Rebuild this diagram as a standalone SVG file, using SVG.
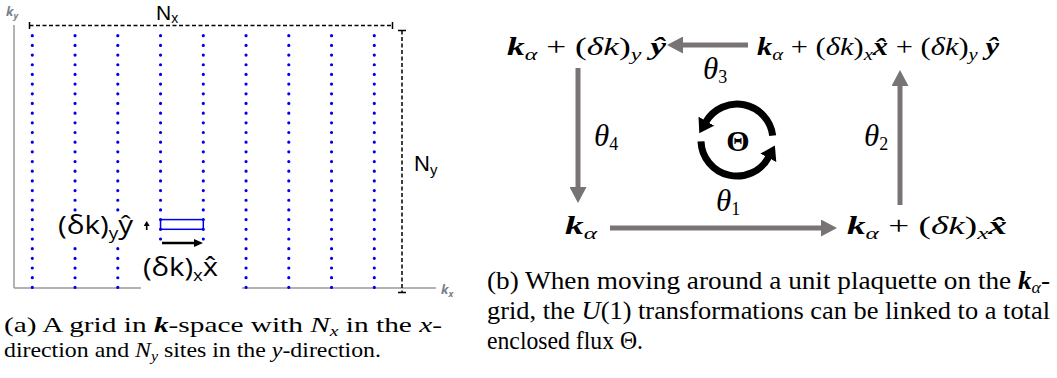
<svg xmlns="http://www.w3.org/2000/svg" width="1057" height="378" viewBox="0 0 1057 378">
<style>
.sans{font-family:"Open Sans","DejaVu Sans",sans-serif;fill:#000}
.lsans{font-family:"Liberation Sans",Arial,sans-serif;fill:#000}
.serif{font-family:"Liberation Serif","Times New Roman",serif;fill:#000}
.math{font-size:25px}
.bi{font-weight:bold;font-style:italic}
.i{font-style:italic}
.sub{font-size:17px}
.csub{font-size:18px}
.axis{stroke:#9a9a9a;stroke-width:1.5;fill:none}
.axl{font-family:"Open Sans","DejaVu Sans",sans-serif;font-weight:bold;font-style:italic;fill:#7a7f8c;font-size:13px}
.dash{stroke:#000;stroke-width:1.5;stroke-dasharray:4 2.5;fill:none}
.tick{stroke:#000;stroke-width:1.5}
.dots{stroke:#0000ee;stroke-width:3.2;stroke-linecap:round;stroke-dasharray:0 9.68;fill:none}
.garrow{stroke:#787474;stroke-width:5;fill:none}
.carc{stroke:#000;stroke-width:7;fill:none}
</style>
<defs>
<marker id="gh" markerUnits="userSpaceOnUse" markerWidth="16" markerHeight="17" refX="1" refY="8.5" orient="auto" viewBox="0 0 16 17"><path d="M0,0 L16,8.5 L0,17 z" fill="#787474"/></marker>
<marker id="bh" markerUnits="userSpaceOnUse" markerWidth="9" markerHeight="8" refX="1" refY="4" orient="auto" viewBox="0 0 9 8"><path d="M0,0 L9,4 L0,8 z" fill="#000"/></marker>
<marker id="sh" markerUnits="userSpaceOnUse" markerWidth="5" markerHeight="6" refX="1" refY="3" orient="auto" viewBox="0 0 5 6"><path d="M0,0 L5,3 L0,6 z" fill="#000"/></marker>
<marker id="ch" markerUnits="userSpaceOnUse" markerWidth="14" markerHeight="18" refX="1" refY="9" orient="auto" viewBox="0 0 14 18"><path d="M0,0 L14,9 L0,18 z" fill="#000"/></marker>
</defs>
<rect width="1057" height="378" fill="#fff"/>

<g id="panel-a">
  <g id="axes">
    <line class="axis" x1="14" y1="25" x2="14" y2="288"/>
    <line class="axis" x1="14" y1="288" x2="141" y2="288"/>
    <line class="axis" x1="242" y1="288" x2="436" y2="288"/>
    <text class="axl" x="6" y="16">k<tspan font-size="9" dy="3">y</tspan></text>
    <text class="axl" x="441" y="294">k<tspan font-size="9" dy="3">x</tspan></text>
  </g>
  <g id="grid-dots">
    <line class="dots" x1="32.3" y1="35.7" x2="32.3" y2="288"/>
    <line class="dots" x1="75.05" y1="35.7" x2="75.05" y2="210.5"/>
    <line class="dots" x1="75.05" y1="248.7" x2="75.05" y2="288"/>
    <line class="dots" x1="117.8" y1="35.7" x2="117.8" y2="210.5"/>
    <line class="dots" x1="117.8" y1="248.7" x2="117.8" y2="288"/>
    <line class="dots" x1="160.55" y1="35.7" x2="160.55" y2="239.5"/>
    <line class="dots" x1="203.3" y1="35.7" x2="203.3" y2="239.5"/>
    <line class="dots" x1="246.05" y1="35.7" x2="246.05" y2="288"/>
    <line class="dots" x1="288.8" y1="35.7" x2="288.8" y2="288"/>
    <line class="dots" x1="331.55" y1="35.7" x2="331.55" y2="288"/>
    <line class="dots" x1="374.3" y1="35.7" x2="374.3" y2="288"/>
  </g>
  <g id="size-markers">
    <line class="dash" x1="29.5" y1="25.5" x2="392.5" y2="25.5"/>
    <line class="tick" x1="29.5" y1="22" x2="29.5" y2="29"/>
    <line class="tick" x1="392.5" y1="22" x2="392.5" y2="29"/>
    <line class="dash" x1="402" y1="30.5" x2="402" y2="292.5"/>
    <line class="tick" x1="398" y1="30.5" x2="406" y2="30.5"/>
    <line class="tick" x1="398" y1="292.5" x2="406" y2="292.5"/>
    <text class="lsans" x="156" y="20" font-size="21">N<tspan font-size="14" dy="3">x</tspan></text>
    <text class="lsans" x="414" y="171" font-size="22">N<tspan font-size="15" dy="4">y</tspan></text>
  </g>
  <g id="plaquette">
    <rect x="160.55" y="219.6" width="42.75" height="9.7" fill="none" stroke="#0000ee" stroke-width="1.5"/>
    <line x1="162" y1="243" x2="195" y2="243" stroke="#000" stroke-width="2.5" marker-end="url(#bh)"/>
    <line x1="146.7" y1="230" x2="146.7" y2="225" stroke="#000" stroke-width="1.6" marker-end="url(#sh)"/>
    <text class="sans" x="58" y="234" font-size="25" textLength="75" lengthAdjust="spacingAndGlyphs">(δk)<tspan font-size="16" dy="5">y</tspan><tspan dy="-5">ŷ</tspan></text>
    <text class="sans" x="143" y="276" font-size="25" textLength="75" lengthAdjust="spacingAndGlyphs">(δk)<tspan font-size="16" dy="5">x</tspan><tspan dy="-5">x̂</tspan></text>
  </g>
  <g id="caption-a" class="serif" font-size="21">
    <text x="4" y="332" textLength="438" lengthAdjust="spacingAndGlyphs">(a) A grid in <tspan class="bi">k</tspan>-space with <tspan class="i">N</tspan><tspan class="i" font-size="14" dy="4">x</tspan><tspan dy="-4"> in the </tspan><tspan class="i">x</tspan>-</text>
    <text x="4" y="357" textLength="377" lengthAdjust="spacingAndGlyphs">direction and <tspan class="i">N</tspan><tspan class="i" font-size="14" dy="4">y</tspan><tspan dy="-4"> sites in the </tspan><tspan class="i">y</tspan>-direction.</text>
  </g>
</g>

<g id="panel-b">
  <g id="connectors">
    <line class="garrow" x1="748" y1="45" x2="682" y2="45" marker-end="url(#gh)"/>
    <line class="garrow" x1="578" y1="68" x2="578" y2="188" marker-end="url(#gh)"/>
    <line class="garrow" x1="610" y1="228" x2="822" y2="228" marker-end="url(#gh)"/>
    <line class="garrow" x1="900" y1="205" x2="900" y2="85" marker-end="url(#gh)"/>
    <text class="serif" font-size="31" x="703" y="79"><tspan class="i">θ</tspan><tspan class="csub" dy="4">3</tspan></text>
    <text class="serif" font-size="31" x="594" y="146"><tspan class="i">θ</tspan><tspan class="csub" dy="4">4</tspan></text>
    <text class="serif" font-size="31" x="716" y="211"><tspan class="i">θ</tspan><tspan class="csub" dy="4">1</tspan></text>
    <text class="serif" font-size="31" x="864" y="146"><tspan class="i">θ</tspan><tspan class="csub" dy="4">2</tspan></text>
  </g>
  <g id="node-k-plus-y" class="serif math">
    <text x="507" y="55" textLength="159" lengthAdjust="spacingAndGlyphs"><tspan class="bi">k</tspan><tspan class="sub i" dy="5">α</tspan><tspan dy="-5"> + (</tspan><tspan class="i">δk</tspan>)<tspan class="sub i" dy="5">y</tspan><tspan class="bi" dy="-5"> ŷ</tspan></text>
  </g>
  <g id="node-k-plus-xy" class="serif math">
    <text x="757" y="55" textLength="242" lengthAdjust="spacingAndGlyphs"><tspan class="bi">k</tspan><tspan class="sub i" dy="5">α</tspan><tspan dy="-5"> + (</tspan><tspan class="i">δk</tspan>)<tspan class="sub i" dy="5">x</tspan><tspan class="bi" dy="-5">x̂</tspan> + (<tspan class="i">δk</tspan>)<tspan class="sub i" dy="5">y</tspan><tspan class="bi" dy="-5"> ŷ</tspan></text>
  </g>
  <g id="node-k" class="serif math">
    <text x="565" y="234" textLength="32" lengthAdjust="spacingAndGlyphs"><tspan class="bi">k</tspan><tspan class="sub i" dy="5">α</tspan></text>
  </g>
  <g id="node-k-plus-x" class="serif math">
    <text x="847" y="234" textLength="160" lengthAdjust="spacingAndGlyphs"><tspan class="bi">k</tspan><tspan class="sub i" dy="5">α</tspan><tspan dy="-5"> + (</tspan><tspan class="i">δk</tspan>)<tspan class="sub i" dy="5">x</tspan><tspan class="bi" dy="-5">x̂</tspan></text>
  </g>
  <g id="flux">
    <path class="carc" d="M772.7,135.6 A36,36 0 0 0 705.8,122" marker-end="url(#ch)"/>
    <path class="carc" d="M701,141.3 A36,36 0 0 0 768.8,156.9" marker-end="url(#ch)"/>
    <text class="serif" font-size="30" font-weight="bold" x="738" y="151" text-anchor="middle">Θ</text>
  </g>
  <g id="caption-b" class="serif" font-size="24.5">
    <text x="487" y="289" textLength="563" lengthAdjust="spacingAndGlyphs">(b) When moving around a unit plaquette on the <tspan class="bi">k</tspan><tspan class="i" font-size="16" dy="4">α</tspan><tspan dy="-4">-</tspan></text>
    <text x="487" y="319" textLength="563" lengthAdjust="spacingAndGlyphs">grid, the <tspan class="i">U</tspan>(1) transformations can be linked to a total</text>
    <text x="487" y="349" textLength="156" lengthAdjust="spacingAndGlyphs">enclosed flux Θ.</text>
  </g>
</g>
</svg>
